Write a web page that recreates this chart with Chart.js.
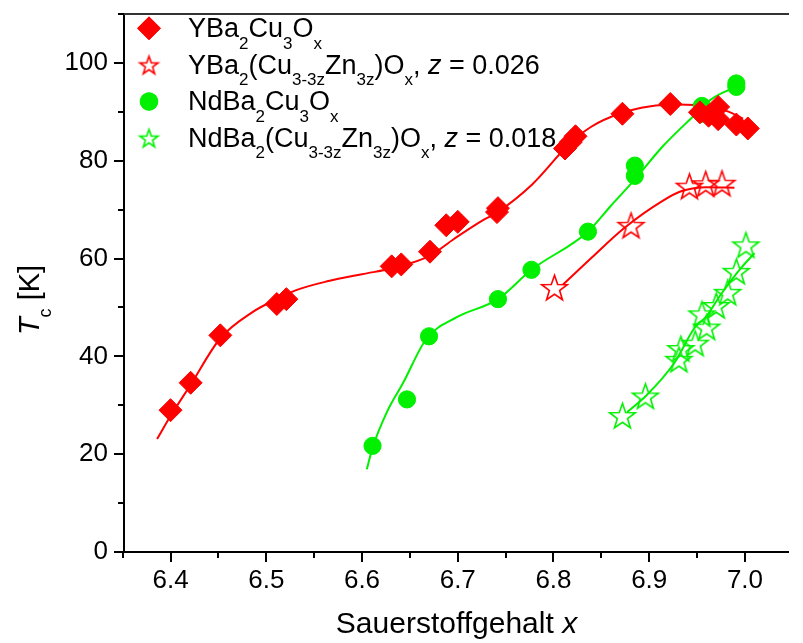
<!DOCTYPE html>
<html>
<head>
<meta charset="utf-8">
<script src="https://cdn.jsdelivr.net/npm/chart.js@4/dist/chart.umd.min.js"></script>
<style>
  html, body { margin: 0; padding: 0; background: #fff; overflow: hidden; }
  #wrap { width: 803px; height: 643px; position: relative; }
</style>
</head>
<body>
<div id="wrap"><canvas id="c" width="803" height="643"></canvas></div>
<script>
// ---- measured points ----
const ybcoX  = [6.400, 6.421, 6.452, 6.511, 6.521, 6.631, 6.641, 6.671, 6.688, 6.700, 6.741, 6.742, 6.812, 6.818, 6.823, 6.872, 6.922, 6.953, 6.972, 6.962, 6.972, 6.991, 7.003];
const ybcoTc = [29.0, 34.6, 44.3, 50.7, 51.7, 58.4, 58.8, 61.4, 66.8, 67.5, 69.5, 70.3, 82.5, 83.8, 85.0, 89.6, 91.6, 89.9, 91.0, 89.2, 88.5, 87.4, 86.6];

const ybcoZnX  = [6.801, 6.881, 6.942, 6.959, 6.976];
const ybcoZnTc = [54.1, 66.8, 74.8, 75.3, 75.4];

const nbcoX  = [6.611, 6.647, 6.670, 6.742, 6.777, 6.836, 6.885, 6.885, 6.955, 6.955, 6.991, 6.991];
const nbcoTc = [21.7, 31.2, 44.1, 51.7, 57.7, 65.5, 79.0, 76.9, 91.2, 89.6, 95.8, 95.1];

const nbcoZnX  = [6.872, 6.896, 6.931, 6.933, 6.948, 6.960, 6.955, 6.970, 6.982, 6.991, 7.001];
const nbcoZnTc = [27.9, 31.9, 39.4, 41.6, 42.7, 46.0, 48.7, 50.4, 53.1, 57.4, 62.8];

// ---- guide-to-the-eye curves ----
const ybcoFitX  = [6.386, 6.400, 6.421, 6.452, 6.486, 6.511, 6.532, 6.565, 6.600, 6.634, 6.671, 6.696, 6.726, 6.741, 6.778, 6.816, 6.839, 6.870, 6.900, 6.930, 6.962, 6.982, 6.998];
const ybcoFitTc = [23.1, 27.8, 34.2, 43.7, 49.1, 51.7, 53.6, 55.4, 56.8, 58.1, 60.6, 64.0, 67.8, 69.4, 75.2, 83.3, 86.9, 89.7, 91.1, 91.5, 91.1, 90.1, 88.6];

const ybcoZnFitX  = [6.810, 6.840, 6.873, 6.914, 6.934, 6.960, 6.989];
const ybcoZnFitTc = [54.7, 60.2, 66.1, 71.8, 73.8, 74.6, 74.5];

const nbcoFitX  = [6.605, 6.611, 6.626, 6.643, 6.667, 6.699, 6.742, 6.777, 6.836, 6.860, 6.885, 6.914, 6.945, 6.965, 6.989];
const nbcoFitTc = [16.9, 21.3, 28.6, 34.6, 43.5, 48.0, 51.7, 57.7, 65.5, 70.8, 76.2, 82.9, 88.9, 92.6, 95.0];

const nbcoZnFitX  = [6.877, 6.897, 6.926, 6.948, 6.959, 6.975, 6.996, 7.010];
const nbcoZnFitTc = [28.6, 32.0, 38.6, 46.0, 48.0, 52.7, 58.1, 61.1];

// ---- axis ticks ----
const xMajorTicks = [6.4, 6.5, 6.6, 6.7, 6.8, 6.9, 7.0];
const xMinorTicks = [6.35, 6.45, 6.55, 6.65, 6.75, 6.85, 6.95];
const yMajorTicks = [0, 20, 40, 60, 80, 100];
const yMinorTicks = [10, 30, 50, 70, 90, 110];

const RED = '#ff0000';
const GREEN = '#00f000';
const FONT = '"Liberation Sans", Arial, sans-serif';

function pts(xs, ys) { return xs.map((x, i) => ({ x: x, y: ys[i] })); }

// hollow five-pointed star as a point image
function starImage(color, R, lw) {
  const s = Math.ceil(2 * R + 2 * lw + 2);
  const cv = document.createElement('canvas');
  cv.width = s; cv.height = s;
  const g = cv.getContext('2d');
  const cx = s / 2, cy = s / 2 + R * 0.1;
  const r = R * 0.40;
  g.beginPath();
  for (let k = 0; k < 10; k++) {
    const rad = (k % 2 === 0) ? R : r;
    const a = -Math.PI / 2 + k * Math.PI / 5;
    const px = cx + rad * Math.cos(a), py = cy + rad * Math.sin(a);
    if (k === 0) g.moveTo(px, py); else g.lineTo(px, py);
  }
  g.closePath();
  g.lineWidth = lw;
  g.strokeStyle = color;
  g.lineJoin = 'miter';
  g.stroke();
  return cv;
}

const redStar = starImage(RED, 13.5, 1.6);
const greenStar = starImage(GREEN, 13.5, 1.6);
const redStarSmall = starImage(RED, 9.6, 1.6);
const greenStarSmall = starImage(GREEN, 9.6, 1.6);

function curve(xs, ys, color) {
  return {
    data: pts(xs, ys), showLine: true, borderColor: color, borderWidth: 2,
    pointRadius: 0, pointHoverRadius: 0, cubicInterpolationMode: 'monotone', order: 2
  };
}

// ---- rich text: segments [text, kind], kind n normal, i italic, s subscript
function segFont(k, size) {
  const sub = k === 's';
  const it = k === 'i';
  return (it ? 'italic ' : '') + (sub ? Math.round(size * 0.62) : size) + 'px ' + FONT;
}
function richWidth(ctx, segs, size) {
  let w = 0;
  segs.forEach(([t, k]) => { ctx.font = segFont(k, size); w += ctx.measureText(t).width; });
  return w;
}
function drawRich(ctx, segs, x, y, size) {
  let cx = x;
  ctx.textBaseline = 'alphabetic';
  ctx.textAlign = 'left';
  segs.forEach(([t, k]) => {
    ctx.font = segFont(k, size);
    const dy = k === 's' ? size * 0.43 : 0;
    ctx.fillText(t, cx, y + dy);
    cx += ctx.measureText(t).width;
  });
}

const legendRows = [
  { style: 'rectRot', radius: 11.5, color: RED, segs: [['YBa', 'n'], ['2', 's'], ['Cu', 'n'], ['3', 's'], ['O', 'n'], ['x', 's']] },
  { style: redStarSmall, radius: 10, color: RED, segs: [['YBa', 'n'], ['2', 's'], ['(Cu', 'n'], ['3-3z', 's'], ['Zn', 'n'], ['3z', 's'], [')O', 'n'], ['x', 's'], [', ', 'n'], ['z', 'i'], [' = 0.026', 'n']] },
  { style: 'circle', radius: 8.8, color: GREEN, segs: [['NdBa', 'n'], ['2', 's'], ['Cu', 'n'], ['3', 's'], ['O', 'n'], ['x', 's']] },
  { style: greenStarSmall, radius: 10, color: GREEN, segs: [['NdBa', 'n'], ['2', 's'], ['(Cu', 'n'], ['3-3z', 's'], ['Zn', 'n'], ['3z', 's'], [')O', 'n'], ['x', 's'], [', ', 'n'], ['z', 'i'], [' = 0.018', 'n']] }
];

const framePlugin = {
  id: 'frame',
  afterDraw(chart) {
    const { ctx, chartArea: a, scales } = chart;
    const xs = scales.x, ys = scales.y;
    ctx.save();
    ctx.strokeStyle = '#000';
    ctx.lineWidth = 2;
    ctx.lineCap = 'butt';
    // axes and top frame
    ctx.beginPath();
    ctx.moveTo(a.left, a.top); ctx.lineTo(a.left, a.bottom + 1);
    ctx.moveTo(a.left - 1, a.bottom); ctx.lineTo(a.right, a.bottom);
    ctx.stroke();
    ctx.strokeStyle = '#333';
    ctx.beginPath();
    ctx.moveTo(a.left - 1, a.top); ctx.lineTo(a.right, a.top);
    ctx.stroke();
    ctx.strokeStyle = '#000';
    // tick marks
    ctx.beginPath();
    xMajorTicks.forEach(v => { const p = Math.round(xs.getPixelForValue(v)); ctx.moveTo(p, a.bottom); ctx.lineTo(p, a.bottom + 10); });
    xMinorTicks.forEach(v => { const p = Math.round(xs.getPixelForValue(v)); ctx.moveTo(p, a.bottom); ctx.lineTo(p, a.bottom + 6); });
    yMajorTicks.forEach(v => { const p = Math.round(ys.getPixelForValue(v)); ctx.moveTo(a.left, p); ctx.lineTo(a.left - 10, p); });
    yMinorTicks.forEach(v => { const p = Math.round(ys.getPixelForValue(v)); ctx.moveTo(a.left, p); ctx.lineTo(a.left - 6, p); });
    ctx.stroke();

    ctx.fillStyle = '#000';
    // x axis title
    const xt = [['Sauerstoffgehalt ', 'n'], ['x', 'i']];
    const xsz = 30;
    const xw = richWidth(ctx, xt, xsz);
    drawRich(ctx, xt, (a.left + a.right) / 2 - xw / 2, 633, xsz);
    // y axis title
    const yt = [['T', 'i'], ['c', 's'], [' [K]', 'n']];
    const ysz = 29;
    const yw = richWidth(ctx, yt, ysz);
    ctx.save();
    ctx.translate(39, 300);
    ctx.rotate(-Math.PI / 2);
    drawRich(ctx, yt, -yw / 2, 0, ysz);
    ctx.restore();

    // legend
    legendRows.forEach((row, i) => {
      const cy = 28.3 + i * 36.6;
      ctx.save();
      ctx.fillStyle = row.color; ctx.strokeStyle = row.color; ctx.lineWidth = 1;
      Chart.helpers.drawPoint(ctx, { pointStyle: row.style, radius: row.radius, rotation: 0, borderWidth: 1 }, 149, cy);
      if (typeof row.style === 'string') { ctx.fill(); }
      ctx.restore();
      ctx.fillStyle = '#000';
      drawRich(ctx, row.segs, 188, cy + 8.6, 27);
    });
    ctx.restore();
  }
};

new Chart(document.getElementById('c'), {
  type: 'scatter',
  data: {
    datasets: [
      { label: 'YBa2Cu3Ox', data: pts(ybcoX, ybcoTc), pointStyle: 'rectRot', pointRadius: 11.5, backgroundColor: RED, borderColor: RED, borderWidth: 1, order: 0 },
      { label: 'YBa2(Cu3-3zZn3z)Ox, z = 0.026', data: pts(ybcoZnX, ybcoZnTc), pointStyle: redStar, pointRadius: 13, order: 0 },
      { label: 'NdBa2Cu3Ox', data: pts(nbcoX, nbcoTc), pointStyle: 'circle', pointRadius: 8.6, backgroundColor: GREEN, borderColor: GREEN, borderWidth: 1, order: 0 },
      { label: 'NdBa2(Cu3-3zZn3z)Ox, z = 0.018', data: pts(nbcoZnX, nbcoZnTc), pointStyle: greenStar, pointRadius: 13, order: 0 },
      curve(ybcoFitX, ybcoFitTc, RED),
      curve(ybcoZnFitX, ybcoZnFitTc, RED),
      curve(nbcoFitX, nbcoFitTc, GREEN),
      curve(nbcoZnFitX, nbcoZnFitTc, GREEN)
    ]
  },
  options: {
    responsive: false,
    animation: false,
    events: [],
    layout: { padding: { top: 5, left: 0, right: 0, bottom: 0 } },
    plugins: { legend: { display: false }, tooltip: { enabled: false } },
    scales: {
      x: {
        type: 'linear', min: 6.3514, max: 7.046,
        afterBuildTicks: s => { s.ticks = xMajorTicks.map(v => ({ value: v })); },
        afterFit: s => { s.height = 91; s.paddingLeft = 0; s.paddingRight = 0; },
        grid: { display: false, drawTicks: false },
        border: { display: false },
        ticks: { font: { family: FONT, size: 26 }, color: '#000', padding: 13, maxRotation: 0, autoSkip: false, callback: v => Number(v).toFixed(1) }
      },
      y: {
        type: 'linear', min: 0, max: 110,
        afterBuildTicks: s => { s.ticks = yMajorTicks.map(v => ({ value: v })); },
        afterFit: s => { s.width = 124; s.paddingTop = 0; s.paddingBottom = 0; },
        grid: { display: false, drawTicks: false },
        border: { display: false },
        ticks: { font: { family: FONT, size: 26 }, color: '#000', padding: 16, autoSkip: false, callback: v => String(v) }
      }
    }
  },
  plugins: [framePlugin]
});
</script>
</body>
</html>
